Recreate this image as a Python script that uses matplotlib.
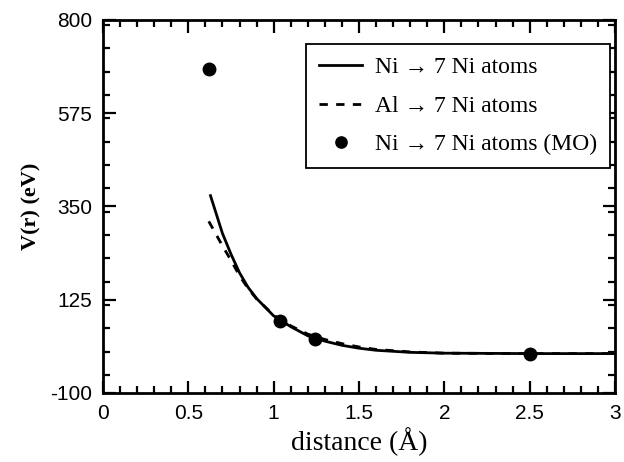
import matplotlib
matplotlib.use('Agg')
import matplotlib.pyplot as plt
from matplotlib.ticker import MultipleLocator

# Ni -> 7 Ni atoms (solid)
ni_x = [0.63, 0.7, 0.75, 0.8, 0.85, 0.9, 1.0, 1.1, 1.2, 1.3, 1.4, 1.5, 1.6, 1.8, 2.0, 2.5, 3.0]
ni_v = [376, 285, 235, 190, 155, 128, 86, 60, 38, 25, 15, 8, 3, -2, -4, -5, -5]

# Al -> 7 Ni atoms (dashed)
al_x = [0.62, 0.7, 0.75, 0.8, 0.85, 0.9, 1.0, 1.1, 1.2, 1.3, 1.4, 1.5, 1.6, 1.8, 2.0, 2.5, 3.0]
al_v = [314, 255, 220, 183, 152, 127, 88, 62, 42, 29, 19, 11, 5, -1, -4, -5, -5]

# MO points
mo_x = [0.62, 1.04, 1.24, 2.5]
mo_v = [682, 73, 30, -6]

x_ticks = [0, 0.5, 1, 1.5, 2, 2.5, 3]
x_ticklabels = ['0', '0.5', '1', '1.5', '2', '2.5', '3']
y_ticks = [-100, 125, 350, 575, 800]
y_ticklabels = ['-100', '125', '350', '575', '800']

serif = 'Liberation Serif'
sans = 'Liberation Sans'

fig = plt.figure(figsize=(6.24, 4.62), dpi=100)
ax = fig.add_axes([0.165, 0.1494, 0.8206, 0.8076])

ax.plot(ni_x, ni_v, color='black', lw=2.0, label='Ni \u2192 7 Ni atoms')
ax.plot(al_x, al_v, color='black', lw=2.0, ls=(0, (3, 3)), label='Al \u2192 7 Ni atoms')
ax.plot(mo_x, mo_v, 'o', color='black', ms=9, label='Ni \u2192 7 Ni atoms (MO)')

ax.set_xlim(0, 3)
ax.set_ylim(-100, 800)
ax.set_xticks(x_ticks)
ax.set_xticklabels(x_ticklabels)
ax.set_yticks(y_ticks)
ax.set_yticklabels(y_ticklabels)
ax.xaxis.set_minor_locator(MultipleLocator(0.1))
ax.yaxis.set_minor_locator(MultipleLocator(56.25))

ax.tick_params(which='both', direction='in', top=True, right=True, width=1.6)
ax.tick_params(which='major', length=9, labelsize=15, pad=8)
ax.tick_params(which='minor', length=5)
for lab in ax.get_xticklabels() + ax.get_yticklabels():
    lab.set_fontfamily(sans)
for s in ax.spines.values():
    s.set_linewidth(2)

ax.set_xlabel('distance (\u00c5)', fontsize=20, family=serif, labelpad=3)
ax.set_ylabel('V(r) (eV)', fontsize=16, family=serif, fontweight='bold', labelpad=6)

leg = ax.legend(loc='upper right', bbox_to_anchor=(0.99, 0.936), borderaxespad=0,
                fancybox=False, edgecolor='black', framealpha=1,
                handlelength=1.8, handletextpad=0.55,
                labelspacing=0.72, borderpad=0.55, markerscale=0.9,
                prop={'family': serif, 'size': 17})
leg.get_frame().set_linewidth(1.3)

fig.savefig('out.png', dpi=100)
